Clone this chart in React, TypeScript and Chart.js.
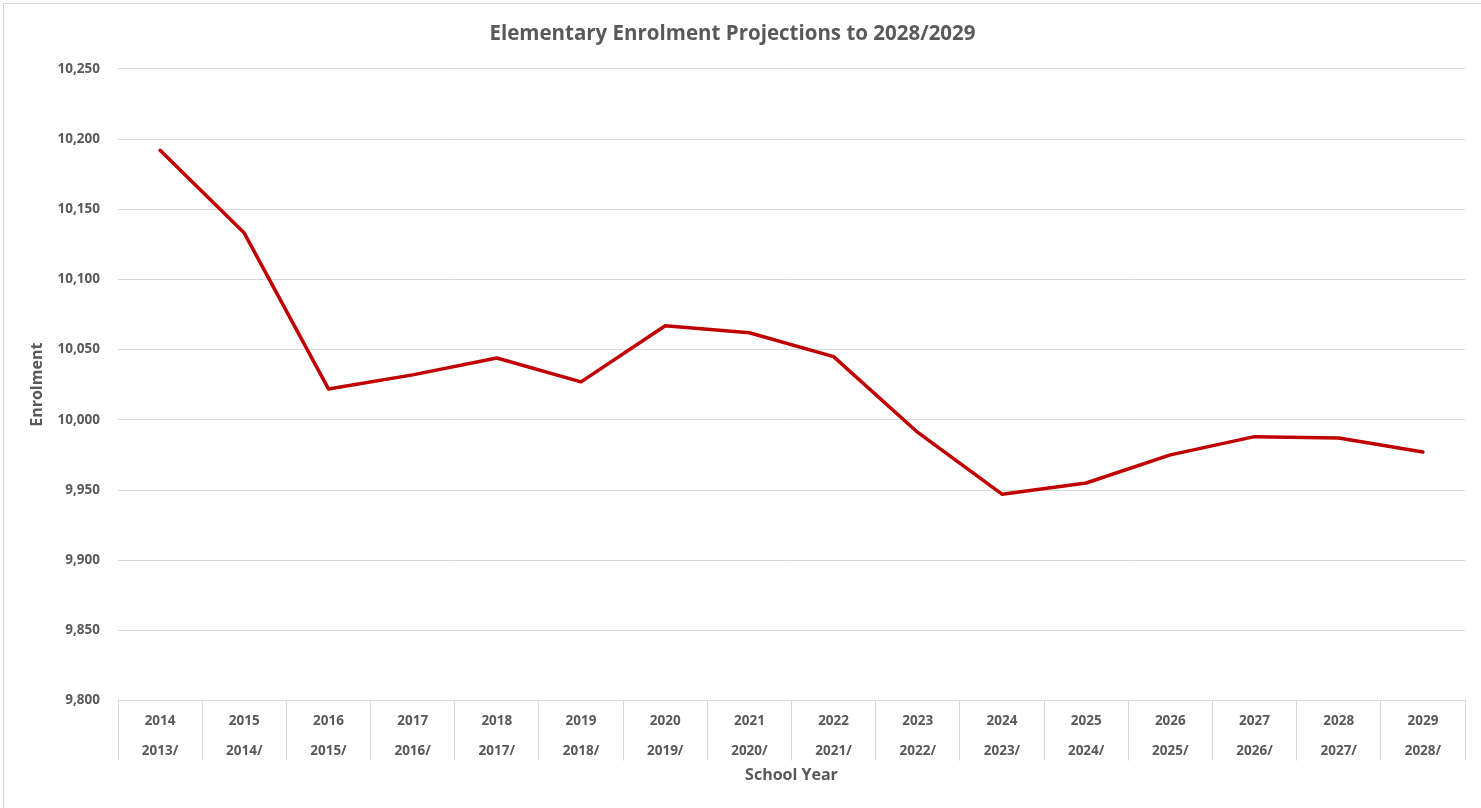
import React, { useEffect, useRef } from "react";
import { Chart, registerables } from "chart.js";

Chart.register(...registerables);

const TITLE = "Elementary Enrolment Projections to 2028/2029";
const X_TITLE = "School Year";
const Y_TITLE = "Enrolment";

// Category labels: top row (end year) and bottom row (start year + "/")
const yearEnd = ["2014", "2015", "2016", "2017", "2018", "2019", "2020", "2021", "2022", "2023", "2024", "2025", "2026", "2027", "2028", "2029"];
const yearStart = ["2013/", "2014/", "2015/", "2016/", "2017/", "2018/", "2019/", "2020/", "2021/", "2022/", "2023/", "2024/", "2025/", "2026/", "2027/", "2028/"];

// Enrolment values
const enrolment = [10192, 10133, 10022, 10032, 10044, 10027, 10067, 10062, 10045, 9991, 9947, 9955, 9975, 9988, 9987, 9977];

const Y_MIN = 9800;
const Y_MAX = 10250;
const Y_STEP = 50;

const TEXT = "#595959";
const GRID = "#d9d9d9";
const LINE = "#c00000";
const FONT = "'Open Sans', Lato, sans-serif";

export default function App() {
  const ref = useRef<HTMLCanvasElement | null>(null);

  useEffect(() => {
    if (!ref.current) return;
    const labels = yearEnd.map((e, i) => [e, yearStart[i]]);
    const chart = new Chart(ref.current, {
      type: "line",
      data: {
        labels,
        datasets: [
          {
            label: "Enrolment",
            data: enrolment,
            borderColor: LINE,
            backgroundColor: LINE,
            borderWidth: 3.5,
            pointRadius: 0,
            tension: 0,
            borderJoinStyle: "round",
            borderCapStyle: "round",
          },
        ],
      },
      options: {
        responsive: false,
        animation: false,
        layout: { padding: { left: 0, right: 16, top: 0, bottom: 0 } },
        plugins: {
          legend: { display: false },
          tooltip: { enabled: false },
          title: {
            display: true,
            text: TITLE,
            color: TEXT,
            font: { family: FONT, size: 20.5, weight: "bold", lineHeight: 1.2 },
            padding: { top: 22, bottom: 22.2 },
          },
        },
        scales: {
          x: {
            type: "category",
            offset: true,
            afterFit: (s: any) => {
              s.height = 107.4;
            },
            grid: {
              offset: true,
              drawOnChartArea: false,
              drawTicks: true,
              tickLength: 60,
              color: GRID,
              lineWidth: 1,
            },
            border: { display: true, color: GRID, width: 1 },
            ticks: {
              autoSkip: false,
              maxRotation: 0,
              minRotation: 0,
              padding: -54,
              color: TEXT,
              font: { family: FONT, size: 13.5, weight: "bold", lineHeight: 30 / 13.5 },
            },
            title: {
              display: true,
              text: X_TITLE,
              color: TEXT,
              font: { family: FONT, size: 16, weight: "bold", lineHeight: 1.2 },
              padding: { top: 0, bottom: 23.4 },
            },
          },
          y: {
            min: Y_MIN,
            max: Y_MAX,
            afterFit: (s: any) => {
              s.width = 118;
            },
            ticks: {
              stepSize: Y_STEP,
              padding: 18,
              color: TEXT,
              font: { family: FONT, size: 13.5, weight: "bold" },
              callback: (v: any) => Number(v).toLocaleString("en-US"),
            },
            grid: { color: GRID, lineWidth: 1, drawTicks: false },
            border: { display: false },
            title: {
              display: true,
              text: Y_TITLE,
              color: TEXT,
              font: { family: FONT, size: 16, weight: "bold", lineHeight: 1.2 },
              padding: { top: 27.4, bottom: 0 },
            },
          },
        },
      },
    });
    return () => chart.destroy();
  }, []);

  return (
    <div
      style={{
        position: "fixed",
        left: 0,
        top: 0,
        width: 1481,
        height: 808,
        background: "#ffffff",
        overflow: "hidden",
      }}
    >
      <div
        style={{
          position: "absolute",
          left: 3,
          top: 3,
          width: 1500,
          height: 830,
          border: "1px solid #d9d9d9",
          boxSizing: "border-box",
        }}
      />
      <canvas ref={ref} width={1481} height={808} style={{ position: "absolute", left: 0, top: 0 }} />
    </div>
  );
}
